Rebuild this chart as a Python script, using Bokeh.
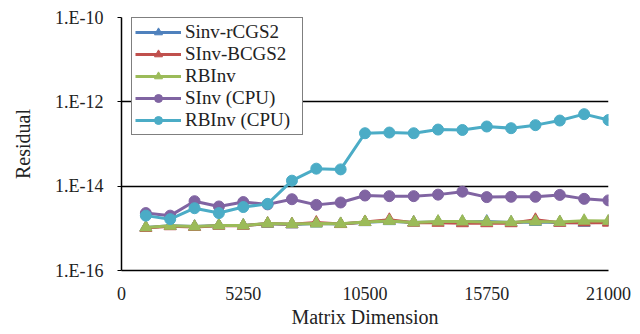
from bokeh.plotting import figure
from bokeh.models import (FixedTicker, CustomJSTickFormatter, Legend, LegendItem, Range1d)
from bokeh.embed import file_html
from bokeh.resources import INLINE

# ---- data ----
dims = [1050, 2100, 3150, 4200, 5250, 6300, 7350, 8400, 9450, 10500,
        11550, 12600, 13650, 14700, 15750, 16800, 17850, 18900, 19950, 21000]

sinv_rcgs2 = [1.05e-15, 1.15e-15, 1.10e-15, 1.17e-15, 1.17e-15, 1.28e-15, 1.24e-15, 1.30e-15, 1.27e-15, 1.40e-15,
              1.48e-15, 1.38e-15, 1.42e-15, 1.42e-15, 1.45e-15, 1.38e-15, 1.42e-15, 1.38e-15, 1.35e-15, 1.40e-15]
sinv_bcgs2 = [1.02e-15, 1.12e-15, 1.08e-15, 1.15e-15, 1.15e-15, 1.30e-15, 1.25e-15, 1.38e-15, 1.26e-15, 1.42e-15,
              1.60e-15, 1.36e-15, 1.35e-15, 1.32e-15, 1.32e-15, 1.32e-15, 1.60e-15, 1.35e-15, 1.38e-15, 1.36e-15]
rbinv = [1.05e-15, 1.15e-15, 1.10e-15, 1.17e-15, 1.17e-15, 1.30e-15, 1.26e-15, 1.30e-15, 1.28e-15, 1.42e-15,
         1.50e-15, 1.38e-15, 1.45e-15, 1.45e-15, 1.42e-15, 1.40e-15, 1.45e-15, 1.42e-15, 1.52e-15, 1.50e-15]
sinv_cpu = [2.3e-15, 2.0e-15, 4.4e-15, 3.3e-15, 4.2e-15, 3.7e-15, 4.9e-15, 3.6e-15, 4.1e-15, 6.0e-15,
            5.8e-15, 5.8e-15, 6.3e-15, 7.4e-15, 5.5e-15, 5.6e-15, 5.6e-15, 6.2e-15, 5.0e-15, 4.6e-15]
rbinv_cpu = [2.0e-15, 1.65e-15, 3.0e-15, 2.3e-15, 3.2e-15, 3.8e-15, 1.35e-14, 2.6e-14, 2.5e-14, 1.8e-13,
             1.87e-13, 1.8e-13, 2.2e-13, 2.15e-13, 2.6e-13, 2.37e-13, 2.8e-13, 3.6e-13, 5.1e-13, 3.7e-13]

x_ticks = [0, 5250, 10500, 15750, 21000]
y_ticks = [1e-16, 1e-14, 1e-12, 1e-10]

series = [
    ("Sinv-rCGS2", sinv_rcgs2, "#4F81BD", "triangle"),
    ("SInv-BCGS2", sinv_bcgs2, "#C0504D", "triangle"),
    ("RBInv", rbinv, "#9BBB59", "triangle"),
    ("SInv (CPU)", sinv_cpu, "#8064A2", "circle"),
    ("RBInv (CPU)", rbinv_cpu, "#4BACC6", "circle"),
]

FONT = "'Liberation Serif', serif"

p = figure(width=632, height=334, y_axis_type="log", output_backend="svg",
           toolbar_location=None, x_range=Range1d(0, 21000), y_range=Range1d(1e-16, 1e-10),
           min_border_left=121, min_border_right=24, min_border_top=17, min_border_bottom=64)
p.outline_line_color = None

# axes
p.xaxis.ticker = FixedTicker(ticks=x_ticks)
p.yaxis.ticker = FixedTicker(ticks=y_ticks)
p.yaxis.formatter = CustomJSTickFormatter(code='return "1.E" + Math.round(Math.log10(tick));')
for ax in (p.xaxis[0], p.yaxis[0]):
    ax.axis_line_color = "black"
    ax.axis_line_width = 1.5
    ax.major_tick_line_color = "black"
    ax.minor_tick_line_color = None
    ax.major_tick_in = 0
    ax.major_label_text_font = FONT
    ax.major_label_text_font_size = "18px"
    ax.major_label_text_color = "#222222"
    ax.axis_label_text_font = FONT
    ax.axis_label_text_font_size = "20px"
    ax.axis_label_text_font_style = "normal"
    ax.axis_label_text_color = "#222222"
p.xaxis.major_tick_out = 0
p.xaxis.major_label_standoff = 16
p.yaxis.major_tick_out = 4
p.yaxis.major_label_standoff = 14
p.xaxis.axis_label = "Matrix Dimension"
p.yaxis.axis_label = "Residual"
p.xaxis.axis_label_standoff = 3
p.yaxis.axis_label_standoff = 18

p.xgrid.grid_line_color = None
p.ygrid.grid_line_color = "black"
p.ygrid.grid_line_width = 1.5

items = []
for name, vals, color, marker in series:
    ln = p.line(dims, vals, line_color=color, line_width=3)
    sc = p.scatter(dims, vals, marker=marker, size=12 if marker == "triangle" else 11,
                   fill_color=color, line_color=color)
    items.append(LegendItem(label=name, renderers=[ln, sc]))

legend = Legend(items=items, location=(10, 135))
legend.label_text_font = FONT
legend.label_text_font_size = "19px"
legend.label_text_line_height = 1.0
legend.label_text_color = "#222222"
legend.glyph_width = 46
legend.glyph_height = 20
legend.label_height = 20
legend.label_width = 114
legend.spacing = 0
legend.padding = 3
legend.margin = 0
legend.label_standoff = 4
legend.border_line_color = "black"
legend.border_line_width = 1.5
legend.background_fill_alpha = 1
p.add_layout(legend)

open("out.html", "w").write(file_html(p, INLINE))
